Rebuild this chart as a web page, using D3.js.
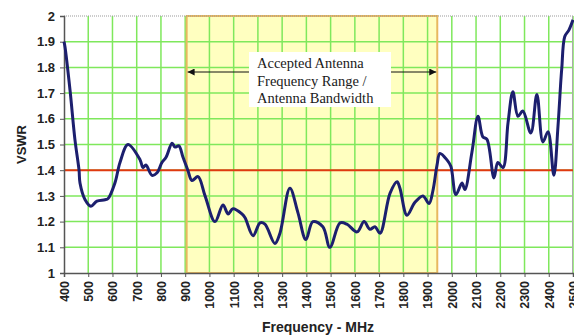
<!DOCTYPE html>
<html>
<head>
<meta charset="utf-8">
<script src="https://cdn.jsdelivr.net/npm/d3@7"></script>
<style>
  body { margin: 0; background: #fff; }
  svg { display: block; }
</style>
</head>
<body>
<svg id="chart" width="574" height="336"></svg>
<script>
const freqs = [400, 404, 425, 445, 462, 466, 487, 511, 536, 569, 582, 610, 631, 664, 714, 726, 738, 763, 784, 804,
  821, 846, 858, 874, 891, 911, 928, 953, 982, 1023, 1056, 1077, 1097, 1134, 1147, 1180, 1209, 1229, 1270, 1291,
  1332, 1365, 1398, 1427, 1468, 1497, 1539, 1567, 1609, 1638, 1662, 1683, 1704, 1745, 1774, 1786, 1815, 1848, 1881, 1906,
  1922, 1939, 1951, 1980, 1996, 2017, 2042, 2054, 2083, 2108, 2128, 2145, 2174, 2190, 2211, 2232, 2252, 2273, 2293, 2326,
  2351, 2376, 2397, 2421, 2438, 2450, 2454, 2466, 2483, 2500]
const vswr = [1.90, 1.88, 1.71, 1.52, 1.40, 1.35, 1.285, 1.26, 1.28, 1.285, 1.29, 1.35, 1.43, 1.50, 1.44, 1.41, 1.42, 1.38, 1.39, 1.43,
  1.45, 1.505, 1.49, 1.495, 1.45, 1.40, 1.36, 1.375, 1.30, 1.20, 1.265, 1.23, 1.25, 1.23, 1.215, 1.145, 1.195, 1.19, 1.115, 1.155,
  1.33, 1.235, 1.13, 1.20, 1.18, 1.10, 1.195, 1.19, 1.16, 1.20, 1.17, 1.18, 1.155, 1.31, 1.355, 1.33, 1.225, 1.275, 1.30, 1.27,
  1.32, 1.42, 1.465, 1.44, 1.415, 1.305, 1.35, 1.325, 1.47, 1.61, 1.53, 1.52, 1.37, 1.43, 1.41, 1.585, 1.705, 1.61, 1.63, 1.545,
  1.695, 1.51, 1.55, 1.38, 1.57, 1.75, 1.80, 1.92, 1.945, 1.985]

const xTicks = d3.range(400, 2501, 100)
const yTicks = [1, 1.1, 1.2, 1.3, 1.4, 1.5, 1.6, 1.7, 1.8, 1.9, 2]
const band = [906, 1940]
const limit = 1.4
const noteLines = ['Accepted Antenna', 'Frequency Range /', 'Antenna Bandwidth']

const svg = d3.select('#chart')
const margin = { left: 64, right: 1, top: 16, bottom: 63 }
const W = 574, H = 336

const x = d3.scaleLinear().domain([400, 2500]).range([margin.left, W - margin.right])
const y = d3.scaleLinear().domain([1, 2]).range([H - margin.bottom, margin.top])

const defs = svg.append('defs')
defs.append('marker')
  .attr('id', 'arr')
  .attr('viewBox', '0 0 10 10')
  .attr('refX', 10).attr('refY', 5)
  .attr('markerWidth', 9).attr('markerHeight', 7)
  .attr('markerUnits', 'userSpaceOnUse')
  .attr('orient', 'auto')
  .append('path').attr('d', 'M0,0L10,5L0,10Z').attr('fill', '#111')

// accepted band
svg.append('rect')
  .attr('x', x(band[0])).attr('y', y(2))
  .attr('width', x(band[1]) - x(band[0])).attr('height', y(1) - y(2))
  .attr('fill', '#ffffc0')

// grid
svg.append('g').selectAll('line').data(xTicks.slice(1)).join('line')
  .attr('x1', d => x(d)).attr('x2', d => x(d))
  .attr('y1', y(1)).attr('y2', y(2))
  .attr('stroke', '#7fe85c').attr('stroke-width', 1.5)
svg.append('g').selectAll('line').data(yTicks.slice(1, -1)).join('line')
  .attr('x1', x(400)).attr('x2', x(2500))
  .attr('y1', d => y(d)).attr('y2', d => y(d))
  .attr('stroke', '#7fe85c').attr('stroke-width', 1.5)

// band edges
svg.append('rect')
  .attr('x', x(band[0])).attr('y', y(2))
  .attr('width', x(band[1]) - x(band[0])).attr('height', y(1) - y(2))
  .attr('fill', 'none').attr('stroke', '#e8b860').attr('stroke-width', 2)

// frame top / right
svg.append('line').attr('x1', x(400)).attr('x2', x(2500)).attr('y1', y(2)).attr('y2', y(2))
  .attr('stroke', '#999').attr('stroke-dasharray', '1,1')
svg.append('line').attr('x1', x(2500) - 0.5).attr('x2', x(2500) - 0.5).attr('y1', y(2)).attr('y2', y(1))
  .attr('stroke', '#aaa')

// limit line
svg.append('line')
  .attr('x1', x(400)).attr('x2', x(2500))
  .attr('y1', y(limit)).attr('y2', y(limit))
  .attr('stroke', '#e03a10').attr('stroke-width', 2)

// axes
const yAxis = svg.append('g').attr('transform', `translate(${x(400)},0)`)
  .call(d3.axisLeft(y).tickValues(yTicks).tickSize(4).tickPadding(5).tickFormat(d3.format('~g')))
const xAxis = svg.append('g').attr('transform', `translate(0,${y(1)})`)
  .call(d3.axisBottom(x).tickValues(xTicks).tickSize(4).tickFormat(d3.format('d')))
svg.selectAll('.domain').attr('stroke', '#555').attr('stroke-width', 1.5)
svg.selectAll('.tick line').attr('stroke', '#555')
yAxis.selectAll('text')
  .attr('font-family', 'Liberation Sans, Arial, sans-serif').attr('font-weight', 'bold')
  .attr('font-size', 13).attr('fill', '#222')
xAxis.selectAll('text')
  .attr('font-family', 'Liberation Sans, Arial, sans-serif').attr('font-weight', 'bold')
  .attr('font-size', 12.5).attr('fill', '#222')
  .attr('transform', 'rotate(-90)')
  .attr('text-anchor', 'end')
  .attr('x', -8).attr('y', 0).attr('dy', '0.35em')

// sweep
const pts = freqs.map((f, i) => [f, vswr[i]])
svg.append('path')
  .datum(pts)
  .attr('d', d3.line().x(d => x(d[0])).y(d => y(d[1])).curve(d3.curveCatmullRom.alpha(0.5)))
  .attr('fill', 'none')
  .attr('stroke', '#1c1f6e')
  .attr('stroke-width', 3)
  .attr('stroke-linejoin', 'round')

// annotation
const arrowY = 72
svg.append('rect').attr('x', 249).attr('y', 52).attr('width', 142).attr('height', 55).attr('fill', '#fff')
svg.append('line').attr('x1', 249).attr('x2', x(band[0]) + 1).attr('y1', arrowY).attr('y2', arrowY)
  .attr('stroke', '#111').attr('marker-end', 'url(#arr)')
svg.append('line').attr('x1', 391).attr('x2', x(band[1]) - 1).attr('y1', arrowY).attr('y2', arrowY)
  .attr('stroke', '#111').attr('marker-end', 'url(#arr)')
svg.append('g').selectAll('text').data(noteLines).join('text')
  .attr('x', 257).attr('y', (d, i) => 68 + i * 17.5)
  .attr('font-family', 'Liberation Serif, Times New Roman, serif')
  .attr('font-size', 14.5).attr('fill', '#1a1a1a')
  .text(d => d)

// axis titles
svg.append('text')
  .attr('transform', `translate(26,${(y(1) + y(2)) / 2}) rotate(-90)`)
  .attr('text-anchor', 'middle')
  .attr('font-family', 'Liberation Sans, Arial, sans-serif').attr('font-weight', 'bold')
  .attr('font-size', 13).attr('fill', '#222')
  .text('VSWR')
svg.append('text')
  .attr('x', 318).attr('y', 332)
  .attr('text-anchor', 'middle')
  .attr('font-family', 'Liberation Sans, Arial, sans-serif').attr('font-weight', 'bold')
  .attr('font-size', 14).attr('fill', '#222')
  .text('Frequency - MHz')
</script>
</body>
</html>
